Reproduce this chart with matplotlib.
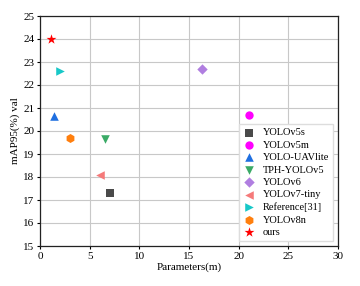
import matplotlib
matplotlib.use('Agg')
import matplotlib.pyplot as plt

# valeurs
modeles = ['YOLOv5s', 'YOLOv5m', 'YOLO-UAVlite', 'TPH-YOLOv5', 'YOLOv6',
           'YOLOv7-tiny', 'Reference[31]', 'YOLOv8n', 'ours']
params = [7.05, 21.0, 1.4, 6.55, 16.35, 6.0, 2.0, 3.0, 1.15]
map50 = [17.3, 20.7, 20.65, 19.65, 22.7, 18.1, 22.6, 19.7, 24.0]
marqueurs = ['s', 'o', '^', 'v', 'D', '<', '>', 'h', '*']
couleurs = ['#4a4a4a', '#ff00ff', '#1f6fe0', '#3aaa66', '#b07ee0',
            '#f57a7a', '#17c8c8', '#ff7f0e', '#ff0000']
tailles = [30, 36, 38, 38, 28, 38, 38, 42, 56]

plt.rcParams['font.family'] = ['Liberation Serif', 'DejaVu Serif']
plt.rcParams['font.size'] = 8

fig = plt.figure(figsize=(3.6, 2.86), dpi=100)
ax = fig.add_axes([40/360, 1-246/286, 298/360, 230/286])

for nom, x, y, m, c, s in zip(modeles, params, map50, marqueurs, couleurs, tailles):
    ax.scatter(x, y, marker=m, color=c, s=s, label=nom, zorder=3, linewidths=0)

ax.set_xlim(0, 30)
ax.set_ylim(15, 25)
ax.set_xticks(range(0, 31, 5))
ax.set_yticks(range(15, 26))
ax.grid(True, color='#c8c8c8', linewidth=0.8, zorder=0)
ax.set_axisbelow(True)
ax.tick_params(length=2, width=0.8, pad=2, labelsize=8)
for sp in ax.spines.values():
    sp.set_linewidth(0.9)
    sp.set_color('#222222')

ax.set_xlabel('Parameters(m)', fontsize=8, labelpad=1)
ax.set_ylabel('mAP95(%) val', fontsize=8, labelpad=2)

ax.legend(loc='lower right', bbox_to_anchor=(0.983, 0.023), fontsize=7.5,
          frameon=True, fancybox=False, edgecolor='#dddddd', framealpha=1,
          labelspacing=0.3, handletextpad=0.7, borderpad=0.35, handlelength=1.2,
          borderaxespad=0)

fig.savefig('out.png', dpi=100)
